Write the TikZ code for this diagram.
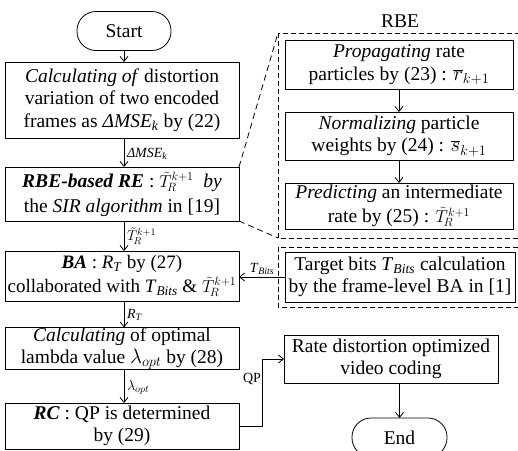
\documentclass[tikz,border=0pt]{standalone}
\usepackage{fontspec}
\setmainfont{Liberation Serif}
\usetikzlibrary{arrows.meta}
\newcommand{\Tk}{{\fontsize{17}{20}\selectfont$\tilde{T}_{\!R}^{k+1}$}}
\newcommand{\sub}[2]{\textit{#1}\textsubscript{\textit{#2}}}
\begin{document}
\begin{tikzpicture}[x=1pt,y=-1pt,
  every node/.style={inner sep=0pt, outer sep=0pt},
  proc/.style={draw, line width=0.8pt, align=center, font=\fontsize{19.5}{22.5}\selectfont},
  term/.style={proc, rounded corners=19pt, minimum width=94pt, minimum height=39pt},
  elab/.style={font=\fontsize{14}{16}\selectfont, anchor=west},
  flow/.style={line width=0.8pt, -{Straight Barb[length=5pt,width=8pt]}},
  zoomline/.style={line width=0.8pt, dash pattern=on 6pt off 4pt},
  groupbox/.style={line width=0.8pt, dash pattern=on 5pt off 3pt}]
\useasboundingbox (0,0) rectangle (518,450);

% left column
\node[term] (start) at (124,31) {Start};
\node[proc, minimum width=234pt, minimum height=76pt] (b1) at (122,100)
  {\textit{Calculating of} distortion\\ variation of two encoded\\ frames as \sub{ΔMSE}{k} by (22)};
\node[proc, minimum width=234pt, minimum height=54pt] (b2) at (122,194)
  {\textbf{\textit{RBE-based RE}} : \Tk\ \ \textit{by}\\[2pt] the \textit{SIR algorithm} in [19]};
\node[proc, minimum width=234pt, minimum height=50pt,
      font=\fontsize{19}{22}\selectfont] (b3) at (122,276)
  {\textbf{\textit{BA}} : \sub{R}{T} by (27)\\[2pt] collaborated with \sub{T}{Bits} \& \Tk};
\node[proc, minimum width=234pt, minimum height=37pt] (b4) at (122,348.5)
  {\textit{Calculating} of optimal\\ lambda value $\lambda_{opt}$ by (28)};
\node[proc, minimum width=234pt, minimum height=46pt] (b5) at (122,426)
  {\textbf{\textit{RC}} : QP is determined\\ by (29)};

% RBE group
\draw[groupbox] (278,33) rectangle (522,238);
\node[font=\fontsize{19.5}{22.5}\selectfont] (rbe) at (400,21) {RBE};
\node[proc, minimum width=228pt, minimum height=49pt] (p1) at (399,64.5)
  {\textit{Propagating} rate\\ particles by (23) : $\overline{r}_{k+1}$};
\node[proc, minimum width=228pt, minimum height=48pt] (p2) at (399,136)
  {\textit{Normalizing} particle\\ weights by (24) : $\overline{s}_{k+1}$};
\node[proc, minimum width=228pt, minimum height=46pt] (p3) at (399,206)
  {\textit{Predicting} an intermediate\\[2pt] rate by (25) : \Tk};

% target bits group
\draw[groupbox] (278,247) rectangle (522,307);
\node[proc, minimum width=230pt, minimum height=50pt] (tgt) at (400,277)
  {Target bits \sub{T}{Bits} calculation\\ by the frame-level BA in [1]};

% output side
\node[proc, minimum width=214pt, minimum height=48pt] (rd) at (391,359)
  {Rate distortion optimized\\ video coding};
\node[term, minimum width=95pt] (end) at (399.5,437.5) {End};

% zoom lines from the RE box to the RBE group
\draw[zoomline] (b2.north east) -- (278,33);
\draw[zoomline] (b2.south east) -- (278,238);

% flow
\draw[flow] (start.south) -- (start.south |- b1.north);
\draw[flow] (start.south |- b1.south) -- (start.south |- b2.north)
  node[elab, midway, xshift=3pt, yshift=-1pt] {\sub{ΔMSE}{k}};
\draw[flow] (start.south |- b2.south) -- (start.south |- b3.north)
  node[elab, midway, xshift=3pt] {$\tilde{T}_{\!R}^{k+1}$};
\draw[flow] (start.south |- b3.south) -- (start.south |- b4.north)
  node[elab, midway, xshift=3pt, yshift=-1pt] {\sub{R}{T}};
\draw[flow] (start.south |- b4.south) -- (start.south |- b5.north)
  node[elab, midway, xshift=3pt, yshift=-1pt] {$\lambda_{opt}$};
\draw[flow] (p1) -- (p2);
\draw[flow] (p2) -- (p3);
\draw[flow] (tgt.west) -- (tgt.west -| b3.east)
  node[elab, midway, anchor=south, yshift=2pt] {\sub{T}{Bits}};
\draw[flow] (b5.east) -- ++(23,0) coordinate (qpc) |- (rd.west)
  node[pos=0.35, anchor=east, xshift=-1pt, font=\fontsize{14}{16}\selectfont] {QP};
\draw[flow] (end.north |- rd.south) -- (end.north);
\end{tikzpicture}
\end{document}
